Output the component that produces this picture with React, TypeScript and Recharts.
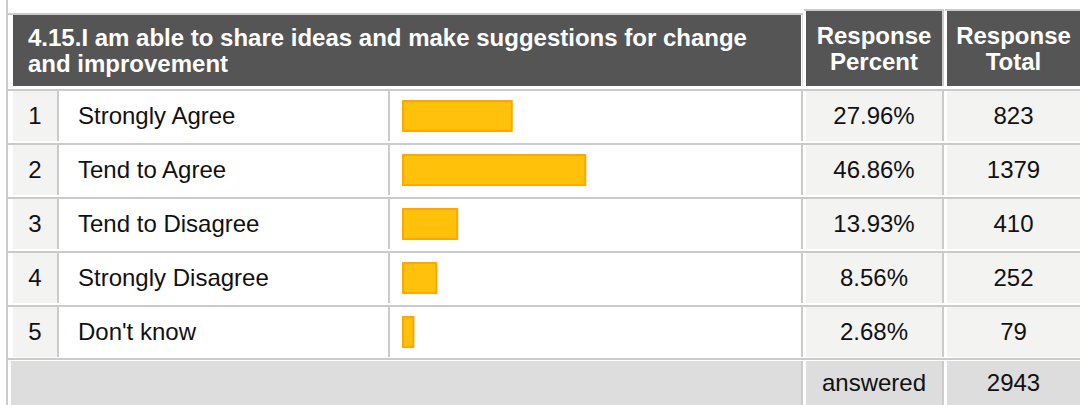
import React from 'react';
import { BarChart, Bar, XAxis, YAxis } from 'recharts';

const questionLines = ['4.15.I am able to share ideas and make suggestions for change', 'and improvement'];
const headerPercent = ['Response', 'Percent'];
const headerTotal = ['Response', 'Total'];
const rowNumbers = [1, 2, 3, 4, 5];
const categories = ['Strongly Agree', 'Tend to Agree', 'Tend to Disagree', 'Strongly Disagree', "Don't know"];
const percents = [27.96, 46.86, 13.93, 8.56, 2.68];
const totals = [823, 1379, 410, 252, 79];
const answeredLabel = 'answered';
const answeredTotal = 2943;

const data = categories.map((c, i) => ({ name: c, value: percents[i] }));

const FONT = '"Liberation Sans", Arial, Helvetica, sans-serif';
const GRID = '#cbcbcb';
const DARK = '#555555';
const LIGHT = '#f3f3f2';
const ANS = '#dddddd';
const FS = 24;

const ROW_TOP = 91;
const PITCH = 54;
const ROW_H = 50;

type BoxProps = { x: number; y: number; w: number; h: number; bg: string; children?: React.ReactNode; align?: 'left' | 'center'; pad?: number; style?: React.CSSProperties };
const Box = ({ x, y, w, h, bg, children, align = 'center', pad = 0, style }: BoxProps) => (
  <div
    style={{
      position: 'absolute', left: x, top: y, width: w, height: h, background: bg,
      display: 'flex', alignItems: 'center', justifyContent: align === 'center' ? 'center' : 'flex-start',
      paddingLeft: pad, boxSizing: 'border-box', ...style,
    }}
  >
    {children}
  </div>
);

export default function App() {
  const rects: React.ReactNode[] = [];
  rects.push(<Box key="outer" x={6} y={0} w={2} h={405} bg={GRID} />);
  rects.push(<Box key="hb1" x={8} y={13} w={795} h={2} bg={GRID} />);
  rects.push(<Box key="hb2" x={804} y={9} w={140} h={2} bg={GRID} />);
  rects.push(<Box key="hb3" x={945} y={9} w={135} h={2} bg={GRID} />);
  rects.push(<Box key="hv1" x={802} y={15} w={1} h={71} bg="#dddddd" />);
  rects.push(<Box key="hv2" x={942} y={11} w={2} h={75} bg={GRID} />);

  for (let i = 0; i < 5; i++) {
    const t = ROW_TOP + PITCH * i;
    rects.push(<Box key={`hl${i}`} x={8} y={t - 2} w={1072} h={2} bg={GRID} />);
    rects.push(<Box key={`v1${i}`} x={57} y={t} w={2} h={ROW_H} bg={GRID} />);
    rects.push(<Box key={`v2${i}`} x={388} y={t} w={2} h={ROW_H} bg={GRID} />);
    rects.push(<Box key={`v3${i}`} x={801} y={t} w={2} h={ROW_H} bg={GRID} />);
    rects.push(<Box key={`v4${i}`} x={942} y={t} w={2} h={ROW_H} bg={GRID} />);
  }
  rects.push(<Box key="hlA" x={8} y={358} w={1072} h={2} bg={GRID} />);
  rects.push(<Box key="vA1" x={801} y={361} w={2} h={44} bg={GRID} />);
  rects.push(<Box key="vA2" x={942} y={361} w={2} h={44} bg={GRID} />);

  const text: React.CSSProperties = { fontFamily: FONT, fontSize: FS, color: '#111', whiteSpace: 'nowrap' };
  const head: React.CSSProperties = { fontFamily: FONT, fontSize: FS, fontWeight: 'bold', color: '#fff', lineHeight: '26px', whiteSpace: 'nowrap' };

  return (
    <div style={{ position: 'absolute', left: 0, top: 0, width: 1080, height: 405, overflow: 'hidden', background: '#fff' }}>
      {rects}
      <Box x={13} y={15} w={788} h={71} bg={DARK} align="left" pad={15}>
        <div style={head}>
          {questionLines.map((l, i) => (
            <div key={i}>{l}</div>
          ))}
        </div>
      </Box>
      <Box x={806} y={11} w={136} h={75} bg={DARK}>
        <div style={{ ...head, textAlign: 'center' }}>
          {headerPercent.map((l, i) => (
            <div key={i}>{l}</div>
          ))}
        </div>
      </Box>
      <Box x={947} y={11} w={133} h={75} bg={DARK}>
        <div style={{ ...head, textAlign: 'center' }}>
          {headerTotal.map((l, i) => (
            <div key={i}>{l}</div>
          ))}
        </div>
      </Box>

      {categories.map((c, i) => {
        const t = ROW_TOP + PITCH * i;
        return (
          <React.Fragment key={c}>
            <Box x={13} y={t} w={44} h={ROW_H} bg={LIGHT}>
              <span style={text}>{rowNumbers[i]}</span>
            </Box>
            <Box x={60} y={t} w={328} h={ROW_H} bg="#fff" align="left" pad={18}>
              <span style={text}>{c}</span>
            </Box>
            <Box x={806} y={t} w={136} h={ROW_H} bg={LIGHT}>
              <span style={text}>{percents[i].toFixed(2)}%</span>
            </Box>
            <Box x={947} y={t} w={133} h={ROW_H} bg={LIGHT}>
              <span style={text}>{totals[i]}</span>
            </Box>
          </React.Fragment>
        );
      })}

      <Box x={11} y={361} w={790} h={44} bg={ANS} />
      <Box x={806} y={361} w={136} h={44} bg={ANS}>
        <span style={text}>{answeredLabel}</span>
      </Box>
      <Box x={947} y={361} w={133} h={44} bg={ANS}>
        <span style={text}>{answeredTotal}</span>
      </Box>

      <div style={{ position: 'absolute', left: 392, top: 89, width: 409, height: 270 }}>
        <BarChart
          width={409}
          height={270}
          data={data}
          layout="vertical"
          margin={{ top: 0, right: 9, bottom: 0, left: 11 }}
        >
          <XAxis type="number" domain={[0, 100]} hide />
          <YAxis type="category" dataKey="name" hide />
          <Bar
            dataKey="value"
            barSize={30}
            fill="#ffc10a"
            stroke="#ffa600"
            strokeWidth={2}
            isAnimationActive={false}
          />
        </BarChart>
      </div>
    </div>
  );
}
